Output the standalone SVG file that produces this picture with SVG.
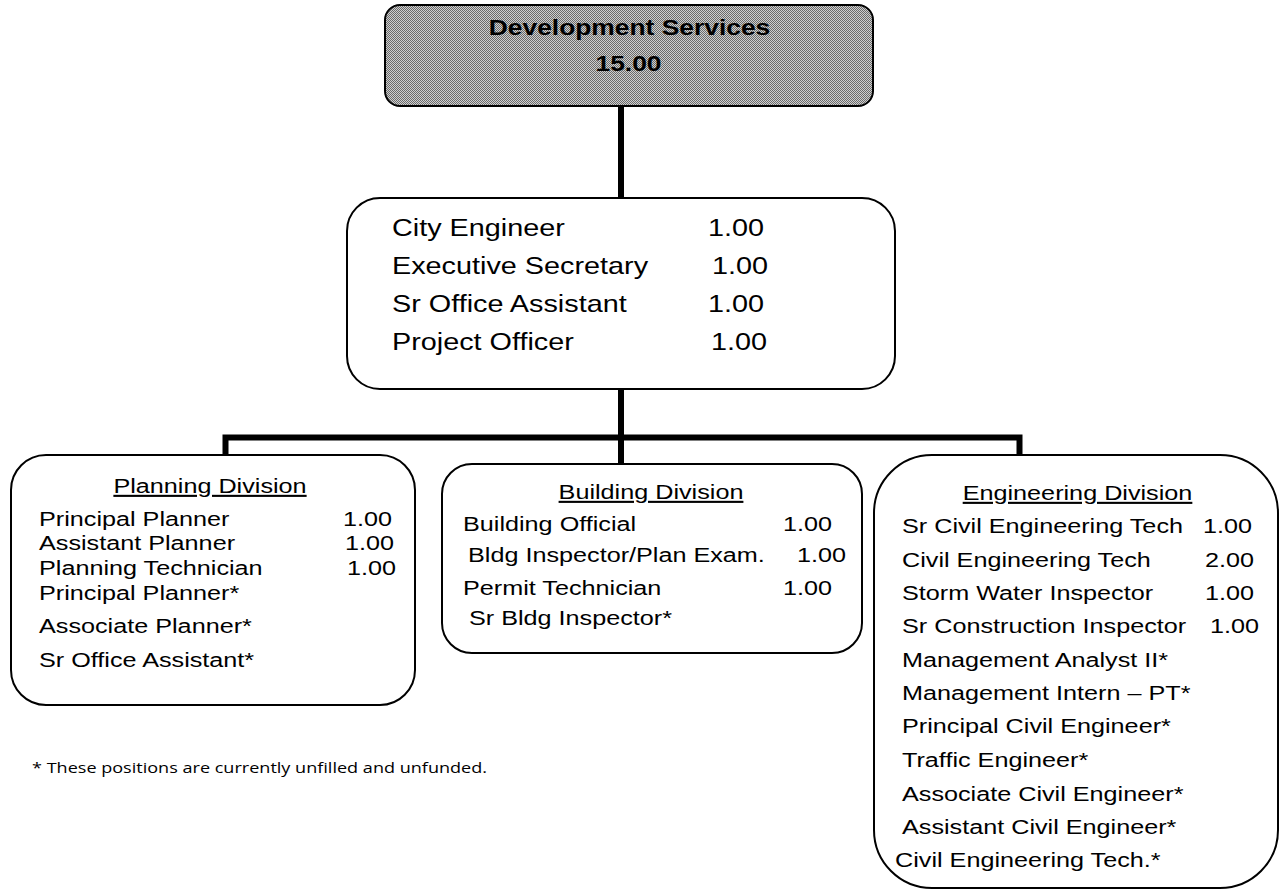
<svg xmlns="http://www.w3.org/2000/svg" width="1280" height="892" viewBox="0 0 1280 892">
<defs>
<pattern id="hatch" width="2" height="2" patternUnits="userSpaceOnUse">
<rect width="2" height="2" fill="#cfcfcf"/>
<rect width="1" height="1" fill="#6a6a6a"/>
<rect x="1" y="1" width="1" height="1" fill="#6a6a6a"/>
</pattern>
<style>
.box{fill:#fff;stroke:#000;stroke-width:2}
.conn{fill:none;stroke:#000;stroke-width:6;stroke-linejoin:miter}
text{font-family:"Liberation Sans",Arial,sans-serif;fill:#000}
.t24{font-size:24px}
.t21{font-size:21px}
.hd{font-size:22px;font-weight:bold}
.u{text-decoration:underline}
.foot{font-family:"Open Sans","Noto Sans",sans-serif;font-size:14px}
</style>
</defs>
<rect width="1280" height="892" fill="#fff"/>

<g id="connectors">
<path class="conn" d="M621 106 V198"/>
<path class="conn" d="M621 389 V463"/>
<path class="conn" d="M225.5 455 V437.5 H1019.5 V455"/>
</g>

<g id="dev-services">
<rect x="385" y="5" width="488" height="101" rx="15" fill="url(#hatch)" stroke="#000" stroke-width="2"/>
<text class="hd" text-anchor="middle" transform="translate(629.5 35) scale(1.2 1)">Development Services</text>
<text class="hd" text-anchor="middle" transform="translate(628.5 71) scale(1.2 1)">15.00</text>
</g>

<g id="city-engineer">
<rect class="box" x="347" y="198" width="548" height="191" rx="33"/>
<text class="t24" transform="translate(392 236) scale(1.2 1)">City Engineer</text>
<text class="t24" transform="translate(708 236) scale(1.2 1)">1.00</text>
<text class="t24" transform="translate(392 274) scale(1.2 1)">Executive Secretary</text>
<text class="t24" transform="translate(712 274) scale(1.2 1)">1.00</text>
<text class="t24" transform="translate(392 312) scale(1.2 1)">Sr Office Assistant</text>
<text class="t24" transform="translate(708 312) scale(1.2 1)">1.00</text>
<text class="t24" transform="translate(392 350) scale(1.2 1)">Project Officer</text>
<text class="t24" transform="translate(711 350) scale(1.2 1)">1.00</text>
</g>

<g id="planning">
<rect class="box" x="11" y="455" width="404" height="250" rx="35"/>
<text class="t21 u" text-anchor="middle" transform="translate(210 493) scale(1.2 1)">Planning Division</text>
<text class="t21" transform="translate(39 526) scale(1.2 1)">Principal Planner</text>
<text class="t21" transform="translate(343 526) scale(1.2 1)">1.00</text>
<text class="t21" transform="translate(39 550) scale(1.2 1)">Assistant Planner</text>
<text class="t21" transform="translate(345 550) scale(1.2 1)">1.00</text>
<text class="t21" transform="translate(39 575) scale(1.2 1)">Planning Technician</text>
<text class="t21" transform="translate(347 575) scale(1.2 1)">1.00</text>
<text class="t21" transform="translate(39 600) scale(1.2 1)">Principal Planner*</text>
<text class="t21" transform="translate(39 633) scale(1.2 1)">Associate Planner*</text>
<text class="t21" transform="translate(39 667) scale(1.2 1)">Sr Office Assistant*</text>
</g>

<g id="building">
<rect class="box" x="442" y="464" width="420" height="189" rx="30"/>
<text class="t21 u" text-anchor="middle" transform="translate(651 499) scale(1.2 1)">Building Division</text>
<text class="t21" transform="translate(463 531) scale(1.2 1)">Building Official</text>
<text class="t21" transform="translate(783 531) scale(1.2 1)">1.00</text>
<text class="t21" transform="translate(468 562) scale(1.2 1)">Bldg Inspector/Plan Exam.</text>
<text class="t21" transform="translate(797 562) scale(1.2 1)">1.00</text>
<text class="t21" transform="translate(463 595) scale(1.2 1)">Permit Technician</text>
<text class="t21" transform="translate(783 595) scale(1.2 1)">1.00</text>
<text class="t21" transform="translate(469 625) scale(1.2 1)">Sr Bldg Inspector*</text>
</g>

<g id="engineering">
<rect class="box" x="874" y="455" width="404" height="433" rx="58"/>
<text class="t21 u" text-anchor="middle" transform="translate(1077.5 500) scale(1.2 1)">Engineering Division</text>
<text class="t21" transform="translate(902 533) scale(1.2 1)">Sr Civil Engineering Tech</text>
<text class="t21" transform="translate(1203 533) scale(1.2 1)">1.00</text>
<text class="t21" transform="translate(902 567) scale(1.2 1)">Civil Engineering Tech</text>
<text class="t21" transform="translate(1205 567) scale(1.2 1)">2.00</text>
<text class="t21" transform="translate(902 600) scale(1.2 1)">Storm Water Inspector</text>
<text class="t21" transform="translate(1205 600) scale(1.2 1)">1.00</text>
<text class="t21" transform="translate(902 633) scale(1.2 1)">Sr Construction Inspector</text>
<text class="t21" transform="translate(1210 633) scale(1.2 1)">1.00</text>
<text class="t21" transform="translate(902 667) scale(1.2 1)">Management Analyst II*</text>
<text class="t21" transform="translate(902 700) scale(1.2 1)">Management Intern – PT*</text>
<text class="t21" transform="translate(902 733) scale(1.2 1)">Principal Civil Engineer*</text>
<text class="t21" transform="translate(902 767) scale(1.2 1)">Traffic Engineer*</text>
<text class="t21" transform="translate(902 801) scale(1.2 1)">Associate Civil Engineer*</text>
<text class="t21" transform="translate(902 834) scale(1.2 1)">Assistant Civil Engineer*</text>
<text class="t21" transform="translate(895 867) scale(1.2 1)">Civil Engineering Tech.*</text>
</g>

<g id="footnote">
<text class="foot" x="32" y="773" textLength="455" lengthAdjust="spacingAndGlyphs">* These positions are currently unfilled and unfunded.</text>
</g>
</svg>
